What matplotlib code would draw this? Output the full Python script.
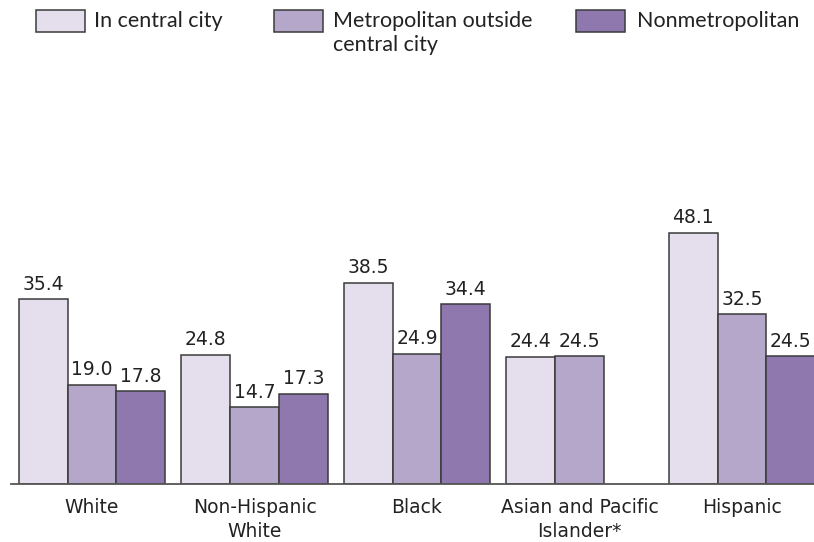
import numpy as np
import matplotlib.pyplot as plt
from matplotlib.patches import Rectangle

plt.rcParams['font.family'] = ['DejaVu Sans']

categories = ['White', 'Non-Hispanic\nWhite', 'Black', 'Asian and Pacific\nIslander*', 'Hispanic']
series_names = ['In central city', 'Metropolitan outside\ncentral city', 'Nonmetropolitan']
central_city = [35.4, 24.8, 38.5, 24.4, 48.1]
metro_outside = [19.0, 14.7, 24.9, 24.5, 32.5]
nonmetro = [17.8, 17.3, 34.4, np.nan, 24.5]

colors = ['#E5DFED', '#B5A7CA', '#8E78AE']
edge = '#3a3a3a'
txt = '#222222'

W, H = 814, 542
fig = plt.figure(figsize=(W / 100, H / 100), dpi=100)
ax = fig.add_axes([11 / W, 58 / H, 803 / W, 261 / H])

x = np.arange(len(categories))
w = 0.3
for i, vals in enumerate([central_city, metro_outside, nonmetro]):
    pos = x + (i - 1) * w
    ax.bar(pos, vals, width=w, color=colors[i], edgecolor=edge, linewidth=1.1)
    for xp, v in zip(pos, vals):
        if np.isnan(v):
            continue
        ax.annotate(f'{v:.1f}', (xp, v), xytext=(0, 4), textcoords='offset points',
                    ha='center', va='bottom', fontsize=13.5, color=txt)

ax.set_xlim(-0.4985, 4.443)
ax.set_ylim(0, 50)
for s in ['top', 'right', 'left']:
    ax.spines[s].set_visible(False)
ax.spines['bottom'].set_color('#555555')
ax.spines['bottom'].set_linewidth(1.3)
ax.set_yticks([])
ax.set_xticks(x)
ax.set_xticklabels(categories, fontsize=13.5, color=txt, linespacing=1.35)
ax.tick_params(axis='x', length=0, pad=10)

# legend drawn by hand so the wrapped label stays top-aligned
leg_box_x = [36, 274, 576]
leg_text_x = [94, 333, 637]
for i, name in enumerate(series_names):
    fig.add_artist(Rectangle((leg_box_x[i] / W, 1 - 32 / H), 49 / W, 22 / H,
                             transform=fig.transFigure, facecolor=colors[i],
                             edgecolor=edge, linewidth=1.1))
    fig.text(leg_text_x[i] / W, 1 - 11 / H, name, ha='left', va='top', fontsize=15.5,
             family=['Lato', 'DejaVu Sans'], color=txt, linespacing=1.22)

fig.savefig('out.png', dpi=100)
